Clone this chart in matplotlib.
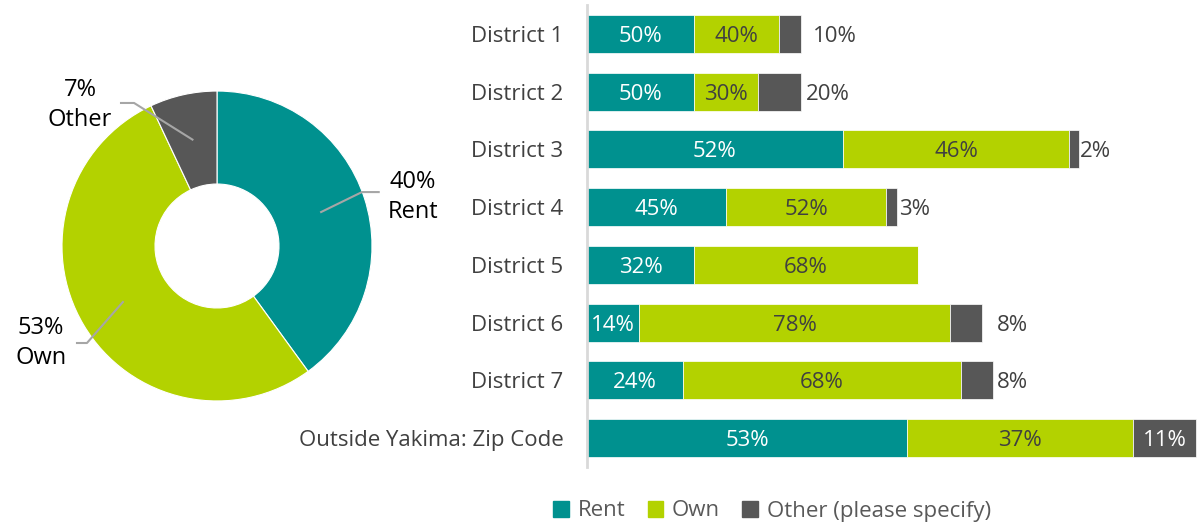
import matplotlib
matplotlib.use("Agg")
import matplotlib.pyplot as plt
from matplotlib.patches import Patch
import numpy as np

# overall split (donut)
pie_labels = ["Rent", "Own", "Other"]
pie_values = [40, 53, 7]

# per-district responses (bar lengths) and their shares
districts = ["District 1", "District 2", "District 3", "District 4",
             "District 5", "District 6", "District 7", "Outside Yakima: Zip Code"]
rent = [107, 107, 256, 139, 107, 52, 96, 320]
own = [85, 64, 226, 160, 224, 311, 278, 226]
other = [22, 43, 10, 11, 0, 32, 32, 63]
rent_pct = [50, 50, 52, 45, 32, 14, 24, 53]
own_pct = [40, 30, 46, 52, 68, 78, 68, 37]
other_pct = [10, 20, 2, 3, 0, 8, 8, 11]

TEAL = "#00918F"
LIME = "#B3D200"
GREY = "#575757"
TXT = "#404040"

plt.rcParams["font.family"] = ["Open Sans", "DejaVu Sans"]
FS = 16

fig = plt.figure(figsize=(11.98, 5.23), dpi=100)
W, H = 1198, 523

# ---- donut ----
pax = fig.add_axes([0 / W, 1 - 482 / H, 434 / W, 472 / H])
wedges, _ = pax.pie(pie_values, colors=[TEAL, LIME, GREY], startangle=90,
                    counterclock=False, radius=1,
                    wedgeprops=dict(width=0.6, edgecolor="white", linewidth=0.8))
pax.set_aspect("auto")
pax.set_xlim(-1.4, 1.4)
pax.set_ylim(-1.523, 1.523)
pax.axis("off")

# label placement (elbow x, line end x, y, text x, text y)
label_layout = [
    (0.935, 1.05, 0.348, 1.265, 0.316),
    (-0.839, -0.910, -0.626, -1.135, -0.626),
    (-0.535, -0.626, 0.923, -0.884, 0.910),
]
for w, lab, val, (ex, endx, ly, tx, ty) in zip(wedges, pie_labels, pie_values, label_layout):
    ang = np.deg2rad((w.theta1 + w.theta2) / 2)
    ax0, ay0 = 0.7 * np.cos(ang), 0.7 * np.sin(ang)
    pax.plot([ax0, ex, endx], [ay0, ly, ly], color="#A6A6A6", lw=1.5,
             solid_capstyle="butt")
    pax.text(tx, ty, f"{val}%\n{lab}", ha="center", va="center", fontsize=FS + 1,
             color="black", linespacing=1.35)

# ---- stacked bars ----
bax = fig.add_axes([587 / W, 1 - 467 / H, 611 / W, 462 / H])
y = np.arange(len(districts))
rent = np.array(rent)
own = np.array(own)
other = np.array(other)
h = 0.66
bax.barh(y, rent, height=h, color=TEAL, edgecolor="white", linewidth=0.5)
bax.barh(y, own, left=rent, height=h, color=LIME, edgecolor="white", linewidth=0.5)
bax.barh(y, other, left=rent + own, height=h, color=GREY, edgecolor="white", linewidth=0.5)

other_inside = [False, False, False, False, False, False, False, True]
other_offset = [12, 5, 1, 2, 0, 15, 4, 0]
VA = "center_baseline"
for i in range(len(districts)):
    bax.text(rent[i] / 2, y[i], f"{rent_pct[i]}%", ha="center", va=VA,
             fontsize=FS, color="white")
    bax.text(rent[i] + own[i] / 2, y[i], f"{own_pct[i]}%", ha="center", va=VA,
             fontsize=FS, color=TXT)
    if other[i] > 0:
        if other_inside[i]:
            bax.text(rent[i] + own[i] + other[i] / 2, y[i], f"{other_pct[i]}%",
                     ha="center", va=VA, fontsize=FS, color="white")
        else:
            bax.text(rent[i] + own[i] + other[i] + other_offset[i], y[i],
                     f"{other_pct[i]}%", ha="left", va=VA, fontsize=FS, color=TXT)

bax.set_xlim(0, 611)
bax.set_ylim(len(districts) - 0.5, -0.5)
bax.set_yticks(y)
bax.set_yticklabels(districts, fontsize=FS, color=TXT, va="center_baseline")
bax.tick_params(axis="y", length=0, pad=17)
bax.set_xticks([])
for s in ["top", "right", "bottom"]:
    bax.spines[s].set_visible(False)
bax.spines["left"].set_color("#D9D9D9")
bax.spines["left"].set_linewidth(2)

handles = [Patch(color=TEAL, label="Rent"), Patch(color=LIME, label="Own"),
           Patch(color=GREY, label="Other (please specify)")]
fig.legend(handles=handles, loc="center", bbox_to_anchor=(772 / W, 1 - 511 / H),
           ncol=3, frameon=False, fontsize=FS, labelcolor="#595959",
           handlelength=0.7, handleheight=0.7, handletextpad=0.4, columnspacing=1.0)

fig.savefig("out.png", dpi=100)
